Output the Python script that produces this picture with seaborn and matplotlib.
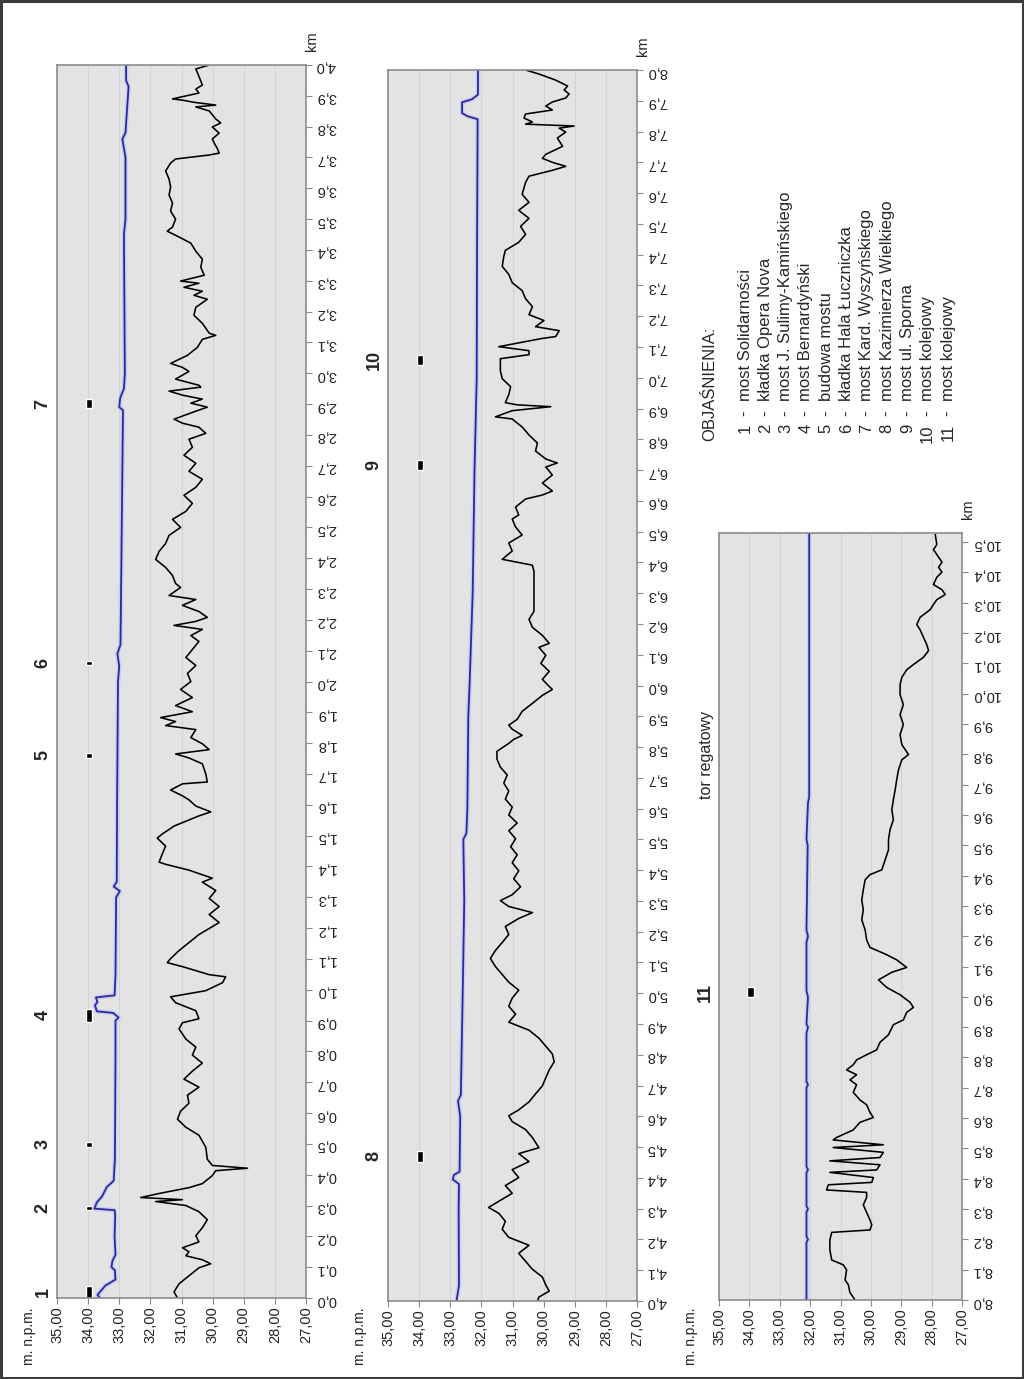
import numpy as np
import pandas as pd
import matplotlib
matplotlib.use("Agg")
import matplotlib.pyplot as plt
from matplotlib.patches import Rectangle
import seaborn as sns

# ---- data: km along river vs. elevation (m n.p.m.) ----
# riverbed profile, km 0-4
bed1_km = [0.000, 0.020, 0.046, 0.072, 0.098, 0.111, 0.124, 0.137, 0.150, 0.163, 0.182, 0.202, 0.228, 0.254,
           0.280, 0.300, 0.313, 0.319, 0.326, 0.339, 0.358, 0.371, 0.397, 0.413, 0.421, 0.430, 0.450, 0.489,
           0.528, 0.554, 0.580, 0.606, 0.632, 0.658, 0.684, 0.710, 0.736, 0.762, 0.788, 0.814, 0.840, 0.873,
           0.893, 0.906, 0.932, 0.958, 0.977, 0.997, 1.023, 1.042, 1.049, 1.075, 1.088, 1.101, 1.127, 1.153,
           1.179, 1.205, 1.218, 1.244, 1.270, 1.296, 1.322, 1.349, 1.362, 1.388, 1.407, 1.414, 1.440, 1.466,
           1.492, 1.505, 1.531, 1.564, 1.577, 1.596, 1.616, 1.629, 1.648, 1.668, 1.674, 1.700, 1.733, 1.752,
           1.765, 1.779, 1.798, 1.818, 1.844, 1.857, 1.870, 1.883, 1.902, 1.922, 1.948, 1.974, 2.000, 2.026,
           2.052, 2.078, 2.104, 2.130, 2.149, 2.169, 2.182, 2.195, 2.208, 2.227, 2.247, 2.266, 2.279, 2.305,
           2.318, 2.344, 2.370, 2.396, 2.422, 2.448, 2.474, 2.500, 2.526, 2.552, 2.578, 2.604, 2.630, 2.656,
           2.682, 2.708, 2.734, 2.760, 2.786, 2.805, 2.825, 2.838, 2.851, 2.877, 2.890, 2.903, 2.916, 2.929,
           2.942, 2.955, 2.961, 2.981, 3.006, 3.019, 3.032, 3.058, 3.084, 3.110, 3.123, 3.130, 3.162, 3.188,
           3.214, 3.240, 3.253, 3.266, 3.279, 3.292, 3.299, 3.318, 3.344, 3.370, 3.396, 3.422, 3.442, 3.461,
           3.474, 3.500, 3.526, 3.552, 3.578, 3.604, 3.630, 3.656, 3.682, 3.695, 3.708, 3.714, 3.727, 3.747,
           3.760, 3.779, 3.799, 3.812, 3.825, 3.851, 3.864, 3.870, 3.879, 3.886, 3.890, 3.909, 3.922, 3.935,
           3.968, 3.987, 4.000]
bed1_h = [31.13, 31.24, 31.08, 30.76, 30.44, 30.06, 30.33, 30.86, 30.76, 30.97, 30.44, 30.54, 30.33, 30.17,
          30.44, 30.86, 31.83, 30.97, 32.31, 31.72, 30.76, 30.33, 30.01, 29.90, 28.88, 30.01, 30.17, 30.22,
          30.44, 30.86, 31.13, 31.03, 30.76, 30.81, 30.44, 30.92, 30.65, 30.33, 30.65, 30.54, 30.86, 31.08,
          30.97, 30.44, 30.54, 31.19, 31.35, 30.22, 29.68, 29.58, 30.11, 30.97, 31.46, 31.35, 31.08, 30.76,
          30.44, 30.01, 29.79, 30.11, 29.79, 30.11, 29.90, 30.33, 30.01, 30.76, 31.51, 31.72, 31.62, 31.51,
          31.78, 31.62, 31.24, 30.44, 30.06, 30.54, 30.76, 30.97, 31.35, 30.97, 30.17, 30.22, 30.33, 30.76,
          31.19, 30.11, 30.33, 30.70, 30.54, 31.51, 31.19, 31.67, 30.65, 31.19, 30.65, 31.03, 30.70, 30.81,
          30.54, 30.86, 30.65, 30.44, 30.70, 30.33, 31.24, 30.54, 30.17, 30.44, 30.97, 30.54, 31.40, 31.03,
          31.19, 31.29, 31.51, 31.83, 31.72, 31.51, 31.40, 31.03, 31.29, 30.86, 30.65, 30.92, 30.54, 30.33,
          30.76, 30.54, 30.92, 30.65, 30.76, 30.22, 30.44, 30.97, 31.24, 30.54, 30.17, 30.70, 30.33, 30.97,
          31.40, 30.38, 30.44, 31.19, 30.76, 30.97, 31.35, 30.81, 30.49, 30.33, 29.90, 30.11, 30.33, 30.60,
          30.54, 30.17, 30.60, 30.33, 30.92, 30.44, 31.03, 30.27, 30.38, 30.33, 30.54, 30.70, 31.08, 31.46,
          31.29, 31.19, 31.35, 31.29, 31.40, 31.35, 31.40, 31.51, 31.35, 31.19, 30.11, 29.79, 29.84, 29.95,
          30.01, 29.79, 30.01, 29.74, 29.90, 30.11, 30.54, 29.90, 30.60, 30.97, 31.29, 30.44, 30.54, 30.33,
          30.46, 30.54, 30.11]

# water level, km 0-4
wat1_km = [0.00, 0.01, 0.04, 0.06, 0.09, 0.10, 0.12, 0.14, 0.20, 0.27, 0.285, 0.29, 0.31, 0.33, 0.36, 0.38,
           0.45, 0.60, 0.80, 0.90, 0.91, 0.925, 0.93, 0.95, 0.96, 0.975, 0.982, 1.05, 1.30, 1.32, 1.335, 1.35,
           1.60, 2.00, 2.05, 2.09, 2.12, 2.50, 2.88, 2.89, 2.92, 2.95, 3.00, 3.45, 3.50, 3.70, 3.76, 3.78,
           3.93, 3.95, 4.00]
wat1_h = [33.62, 33.70, 33.45, 33.12, 33.14, 33.25, 33.22, 33.12, 33.15, 33.13, 33.15, 33.80, 33.72, 33.55,
          33.40, 33.18, 33.14, 33.13, 33.12, 33.12, 33.02, 33.20, 33.72, 33.78, 33.70, 33.75, 33.15, 33.12,
          33.10, 32.98, 33.18, 33.08, 33.07, 33.04, 33.00, 33.06, 32.96, 32.92, 32.88, 33.00, 32.97, 32.85,
          32.82, 32.85, 32.80, 32.80, 32.90, 32.80, 32.70, 32.78, 32.78]

# riverbed profile, km 4-8
bed2_km = [4.000, 4.013, 4.032, 4.052, 4.078, 4.103, 4.129, 4.155, 4.181, 4.207, 4.233, 4.259, 4.285, 4.304,
           4.324, 4.350, 4.375, 4.401, 4.427, 4.453, 4.479, 4.498, 4.531, 4.557, 4.583, 4.602, 4.621, 4.647,
           4.673, 4.699, 4.725, 4.751, 4.777, 4.803, 4.828, 4.854, 4.880, 4.906, 4.932, 4.958, 4.984, 5.010,
           5.036, 5.061, 5.087, 5.113, 5.139, 5.165, 5.191, 5.217, 5.243, 5.262, 5.282, 5.301, 5.320, 5.346,
           5.372, 5.398, 5.424, 5.450, 5.476, 5.502, 5.528, 5.553, 5.579, 5.605, 5.631, 5.657, 5.683, 5.709,
           5.735, 5.761, 5.786, 5.812, 5.825, 5.838, 5.858, 5.871, 5.890, 5.916, 5.942, 5.968, 5.987, 6.000,
           6.020, 6.046, 6.072, 6.098, 6.124, 6.137, 6.163, 6.189, 6.215, 6.241, 6.306, 6.371, 6.391, 6.410,
           6.437, 6.463, 6.489, 6.515, 6.541, 6.554, 6.580, 6.606, 6.619, 6.632, 6.658, 6.684, 6.710, 6.723,
           6.736, 6.762, 6.788, 6.814, 6.840, 6.866, 6.873, 6.893, 6.906, 6.912, 6.919, 6.945, 6.971, 6.997,
           7.023, 7.062, 7.075, 7.088, 7.101, 7.127, 7.134, 7.153, 7.166, 7.186, 7.205, 7.231, 7.257, 7.283,
           7.309, 7.336, 7.362, 7.394, 7.414, 7.440, 7.466, 7.492, 7.518, 7.544, 7.570, 7.596, 7.635, 7.655,
           7.674, 7.687, 7.700, 7.713, 7.726, 7.752, 7.779, 7.798, 7.811, 7.818, 7.824, 7.831, 7.844, 7.857,
           7.870, 7.883, 7.896, 7.909, 7.922, 7.935, 7.948, 7.967, 7.987, 8.000]
bed2_h = [30.20, 30.15, 29.82, 29.93, 30.04, 30.36, 30.58, 30.80, 30.47, 31.12, 31.33, 31.23, 31.44, 31.77,
          31.44, 31.01, 31.23, 30.80, 31.01, 30.47, 30.80, 30.15, 30.36, 30.58, 31.01, 31.12, 30.80, 30.47,
          30.26, 30.04, 29.93, 29.82, 29.66, 29.72, 29.93, 30.15, 30.47, 31.12, 30.90, 31.12, 31.01, 30.80,
          31.12, 31.33, 31.55, 31.71, 31.55, 31.33, 31.12, 31.23, 30.80, 30.36, 31.12, 31.39, 31.01, 30.74,
          30.96, 30.80, 31.01, 30.85, 31.06, 30.90, 31.12, 30.85, 31.12, 31.01, 31.23, 31.12, 31.28, 31.17,
          31.39, 31.50, 31.50, 31.12, 30.96, 30.69, 31.01, 31.12, 30.85, 30.69, 30.36, 30.04, 29.72, 29.85,
          30.04, 29.82, 30.09, 29.93, 30.15, 29.82, 30.04, 30.36, 30.47, 30.31, 30.31, 30.31, 30.36, 31.33,
          31.01, 31.12, 30.69, 30.90, 31.01, 30.80, 30.90, 30.58, 30.04, 29.72, 30.04, 29.72, 29.93, 29.56,
          29.93, 30.26, 30.20, 30.47, 30.69, 31.01, 31.55, 31.01, 29.77, 30.85, 31.23, 31.12, 31.06, 31.33,
          31.39, 31.39, 30.47, 30.47, 31.44, 30.09, 29.61, 29.50, 30.26, 29.99, 30.47, 30.36, 30.58, 30.69,
          31.01, 31.12, 31.33, 31.28, 31.23, 30.80, 30.58, 30.74, 30.47, 30.80, 30.47, 30.69, 30.58, 30.47,
          29.72, 29.29, 29.72, 30.04, 29.93, 29.39, 29.56, 29.29, 29.50, 29.02, 30.58, 30.36, 30.63, 30.58,
          29.72, 29.93, 29.72, 29.29, 29.18, 29.34, 29.23, 29.61, 30.15, 30.58]

# water level, km 4-8
wat2_km = [4.00, 4.05, 4.30, 4.38, 4.395, 4.41, 4.42, 4.60, 4.65, 4.67, 5.00, 5.30, 5.50, 5.52, 5.60, 5.90,
           6.00, 6.30, 6.70, 7.00, 7.40, 7.84, 7.85, 7.86, 7.895, 7.905, 7.92, 8.00]
wat2_h = [32.80, 32.72, 32.73, 32.72, 32.92, 32.88, 32.70, 32.68, 32.75, 32.66, 32.60, 32.55, 32.58, 32.48,
          32.45, 32.42, 32.38, 32.28, 32.22, 32.15, 32.14, 32.12, 32.45, 32.62, 32.62, 32.30, 32.11, 32.11]

# riverbed profile, km 8-10.5
bed3_km = [8.000, 8.025, 8.050, 8.066, 8.099, 8.116, 8.132, 8.165, 8.198, 8.223, 8.231, 8.248, 8.264, 8.289,
           8.314, 8.338, 8.355, 8.363, 8.380, 8.388, 8.404, 8.421, 8.429, 8.446, 8.459, 8.470, 8.487, 8.503,
           8.512, 8.528, 8.536, 8.561, 8.586, 8.602, 8.619, 8.644, 8.660, 8.685, 8.710, 8.726, 8.743, 8.759,
           8.776, 8.792, 8.809, 8.825, 8.850, 8.875, 8.908, 8.924, 8.949, 8.965, 8.982, 9.007, 9.031, 9.056,
           9.081, 9.097, 9.122, 9.139, 9.163, 9.188, 9.221, 9.254, 9.287, 9.320, 9.353, 9.386, 9.403, 9.419,
           9.452, 9.485, 9.518, 9.551, 9.584, 9.617, 9.650, 9.683, 9.716, 9.749, 9.782, 9.799, 9.832, 9.865,
           9.898, 9.931, 9.964, 9.997, 10.030, 10.054, 10.079, 10.096, 10.120, 10.142, 10.162, 10.186, 10.211,
           10.228, 10.252, 10.277, 10.294, 10.310, 10.327, 10.343, 10.360, 10.384, 10.401, 10.417, 10.434,
           10.459, 10.475, 10.492, 10.525]
bed3_h = [30.52, 30.69, 30.74, 30.85, 30.80, 30.91, 31.29, 31.35, 31.35, 31.29, 30.03, 29.97, 30.03, 30.14,
          30.25, 30.14, 30.14, 31.46, 31.40, 29.97, 29.92, 31.35, 29.81, 29.70, 31.35, 29.70, 29.59, 31.24,
          29.59, 31.24, 31.13, 30.58, 30.36, 29.92, 30.03, 30.14, 30.36, 30.58, 30.47, 30.69, 30.47, 30.80,
          30.58, 30.47, 30.14, 29.81, 29.70, 29.42, 29.26, 28.93, 28.82, 28.60, 28.71, 29.04, 29.48, 29.75,
          29.31, 28.82, 29.15, 29.48, 30.03, 30.14, 30.19, 30.30, 30.25, 30.30, 30.25, 30.19, 30.03, 29.64,
          29.53, 29.42, 29.42, 29.37, 29.26, 29.31, 29.26, 29.20, 29.15, 29.09, 28.98, 28.76, 28.98, 29.04,
          28.93, 29.04, 28.93, 29.04, 29.04, 28.98, 28.82, 28.60, 28.27, 28.10, 28.16, 28.27, 28.38, 28.49,
          28.38, 28.05, 27.94, 27.83, 27.55, 27.66, 27.94, 27.83, 27.66, 27.77, 27.66, 27.83, 27.94, 27.83,
          27.88]

# water level, km 8-10.5
wat3_km = [8.00, 8.19, 8.20, 8.21, 8.29, 8.30, 8.31, 8.42, 8.43, 8.44, 8.70, 8.71, 8.72, 8.88, 8.90, 8.91,
           9.00, 9.02, 9.18, 9.20, 9.22, 9.50, 9.52, 9.64, 9.66, 10.53]
wat3_h = [32.12, 32.12, 32.07, 32.12, 32.12, 32.07, 32.12, 32.12, 32.07, 32.12, 32.12, 32.07, 32.12, 32.12,
          32.07, 32.12, 32.07, 32.12, 32.12, 32.07, 32.12, 32.08, 32.12, 32.07, 32.03, 32.03]

# bridges: number, start km, end km
bridge_no = ["1", "2", "3", "4", "5", "6", "7", "8", "9", "10", "11"]
bridge_start = [0.000, 0.285, 0.490, 0.895, 1.752, 2.052, 2.886, 4.453, 6.701, 7.042, 8.998]
bridge_end = [0.040, 0.297, 0.507, 0.938, 1.769, 2.068, 2.916, 4.488, 6.732, 7.075, 9.031]

legend_items = ["most Solidarności", "kładka Opera Nova", "most J. Sulimy-Kamińskiego",
                "most Bernardyński", "budowa mostu", "kładka Hala Łuczniczka",
                "most Kard. Wyszyńskiego", "most Kazimierza Wielkiego", "most ul. Sporna",
                "most kolejowy", "most kolejowy"]

elev_ticks = [35, 34, 33, 32, 31, 30, 29, 28, 27]
panel_km = [(0.0, 4.0), (4.0, 8.0), (8.0, 10.53)]

# ---- style ----
sns.set_theme(style="white")
plt.rcParams["font.family"] = ["Liberation Sans", "DejaVu Sans"]

W, H = 1024, 1379
fig = plt.figure(figsize=(W / 100, H / 100), dpi=100)
fig.patch.set_facecolor("white")


def fx(x):
    return x / W


def fy(y):
    return 1 - y / H


# panel boxes in pixels: left, top, right, bottom
boxes = [(57, 65, 306, 1298), (388, 70, 637, 1301), (719, 533, 962, 1300)]
beds = [(bed1_km, bed1_h), (bed2_km, bed2_h), (bed3_km, bed3_h)]
waters = [(wat1_km, wat1_h), (wat2_km, wat2_h), (wat3_km, wat3_h)]

for i, (l, t, r, b) in enumerate(boxes):
    ax = fig.add_axes([fx(l), fy(b), (r - l) / W, (b - t) / H])
    ax.set_facecolor("#e3e3e3")
    lo, hi = panel_km[i]

    wkm, wh = waters[i]
    dfw = pd.DataFrame({"km": wkm, "h": wh})
    sns.lineplot(data=dfw, x="h", y="km", orient="y", sort=False, estimator=None,
                 color="#c9cbef", lw=3.2, ax=ax)
    sns.lineplot(data=dfw, x="h", y="km", orient="y", sort=False, estimator=None,
                 color="#2a2a9e", lw=1.3, ax=ax)

    bkm, bh = beds[i]
    dfb = pd.DataFrame({"km": bkm, "h": bh})
    sns.lineplot(data=dfb, x="h", y="km", orient="y", sort=False, estimator=None,
                 color="black", lw=1.15, ax=ax)

    # bridge markers and numbers
    for no, s, e in zip(bridge_no, bridge_start, bridge_end):
        if lo <= s < hi:
            ax.barh((s + e) / 2, 0.22, height=e - s, left=33.86, color="black")
            ax.text(-14 / (r - l), (s + e) / 2, no, transform=ax.get_yaxis_transform(),
                    rotation=90, ha="center", va="center", fontsize=13,
                    fontweight="bold", clip_on=False)

    ax.set_xlim(35, 27)
    ax.set_ylim(lo, hi)
    ax.set_xlabel("")
    ax.set_ylabel("")
    ax.set_xticks(elev_ticks)
    ax.set_xticklabels([f"{v:.2f}".replace(".", ",") for v in elev_ticks])
    kt = np.round(np.arange(lo, hi + 0.001, 0.1), 1)
    ax.set_yticks(kt)
    ax.set_yticklabels([f"{v:.1f}".replace(".", ",") for v in kt])
    ax.yaxis.tick_right()
    ax.tick_params(axis="x", bottom=True, direction="out", length=4, width=0.8,
                   color="#8a8a8a", labelsize=10.5, labelrotation=90, pad=2, labelcolor="#222222")
    ax.tick_params(axis="y", left=False, right=True, labelleft=False, labelright=True,
                   direction="out", length=4, width=0.8, color="#8a8a8a", labelsize=10.5,
                   labelrotation=180, pad=3, labelcolor="#222222")
    ax.grid(axis="x", color="#d3d3d3", lw=0.8)
    ax.grid(axis="y", visible=False)
    ax.set_axisbelow(True)
    for sp in ax.spines.values():
        sp.set_visible(True)
        sp.set_color("#8c8c8c")
        sp.set_linewidth(1.2)
    if ax.get_legend():
        ax.get_legend().remove()

    fig.text(fx(l - 28), fy(1336), "m. n.p.m.", rotation=90, ha="center", va="center",
             fontsize=10, color="#222222")
    fig.text(fx(r + 6), fy(t - 24), "km", rotation=90, ha="center", va="center",
             fontsize=10.5, color="#222222")

# extra labels
fig.text(fx(707), fy(755), "tor regatowy", rotation=90, ha="center", va="center", fontsize=11.5)

# legend (OBJAŚNIENIA)
fig.text(fx(710), fy(441), "OBJAŚNIENIA:", rotation=90, rotation_mode="anchor",
         ha="left", va="center", fontsize=12)
for k, txt in enumerate(legend_items):
    x = 745 + 20.3 * k
    fig.text(fx(x), fy(424), str(k + 1), rotation=90, rotation_mode="anchor",
             ha="right", va="center", fontsize=12)
    fig.text(fx(x), fy(413), "-", rotation=90, rotation_mode="anchor",
             ha="center", va="center", fontsize=12)
    fig.text(fx(x), fy(401), txt, rotation=90, rotation_mode="anchor",
             ha="left", va="center", fontsize=12)

# page frame
fig.add_artist(Rectangle((0.001, 0.001), 0.998, 0.998, transform=fig.transFigure,
                         fill=False, edgecolor="#3c3c3c", lw=2.2))

fig.savefig("out.png", dpi=100)
